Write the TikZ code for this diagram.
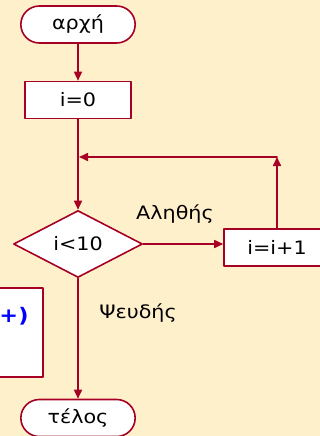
\documentclass[tikz,border=0pt]{standalone}
\usepackage{fontspec}
\setmainfont{DejaVu Sans}[FakeStretch=1.12]
\usetikzlibrary{arrows.meta,shapes.geometric,shapes.misc}
\definecolor{slidebg}{RGB}{255,240,204}
\definecolor{flowred}{RGB}{166,0,36}
\definecolor{codeblue}{RGB}{0,0,255}
\tikzset{
    chart/.style={
        x=1pt, y=-1pt,
        line cap=round, line join=round,
        every node/.style={font=\fontsize{18.5}{22}\selectfont},
    },
    flow/.style={draw=flowred, line width=1.6pt,
        -{Triangle[length=9pt,width=8pt]}},
    terminal/.style={rounded rectangle, draw=flowred, fill=white,
        line width=1.6pt, minimum width=121pt, minimum height=37pt},
    stepbox/.style={rectangle, draw=flowred, fill=white,
        line width=1.6pt, minimum width=106pt, minimum height=37pt},
    testbox/.style={diamond, draw=flowred, fill=white, line width=1.6pt,
        inner sep=0pt, shape aspect=1.93, minimum width=129pt, minimum height=67pt},
}
\begin{document}
\begin{tikzpicture}[chart]
    \fill[slidebg] (0,0) rectangle (320,436);
    \useasboundingbox (0,0) rectangle (320,436);
    \clip (0,0) rectangle (320,436);
    % partly hidden box on the left
    \draw[flowred, fill=white, line width=1.6pt] (-60,288) rectangle (43,377);
    \node[text=codeblue, font=\fontsize{20}{24}\selectfont\bfseries] (code) at (14,316) {+)};
    % the chart
    \node[terminal] (start) at (78,24.5) {αρχή};
    \node[stepbox] (init) at (78,100) {i=0};
    \node[testbox] (test) at (78,244) {i<10};
    \node[stepbox] (incr) at (277,247.5) {i=i+1};
    \node[terminal] (stop) at (78,418) {τέλος};
    \coordinate (join) at (78,157);
    \coordinate (back) at (277,157);
    \draw[flow] (start) -- (init);
    \draw[flow] (init) -- (test);
    \draw[flow] (test.east) -- (test.east -| incr.west);
    \draw[flow] (incr) -- (back);
    \draw[flow, shorten >=1pt] (back) -- (join);
    \draw[flow] (test) -- (stop);
    \node (yes) at (175,214) {Αληθής};
    \node (no) at (138,313) {Ψευδής};
\end{tikzpicture}
\end{document}
